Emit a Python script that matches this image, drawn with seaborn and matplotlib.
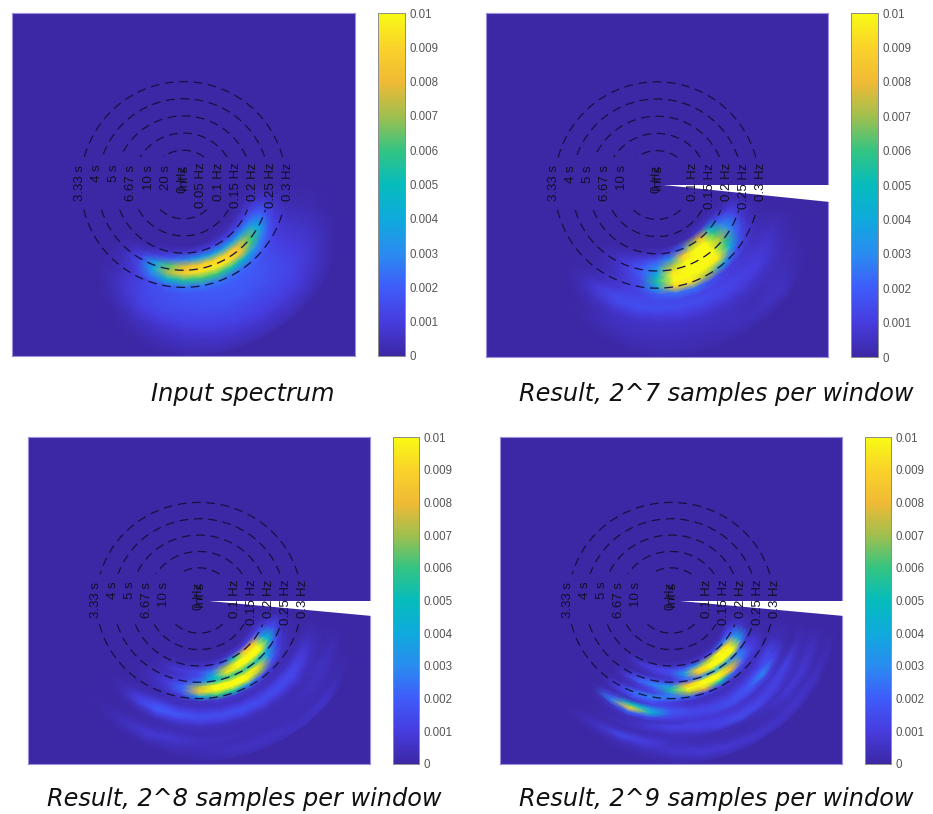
import numpy as np
import matplotlib
matplotlib.use("Agg")
import matplotlib.pyplot as plt
import seaborn as sns
from matplotlib.colors import LinearSegmentedColormap
from matplotlib.patches import Polygon
from matplotlib.projections.polar import PolarTransform
from matplotlib.transforms import Affine2D

THETA_1 = [220, 230, 240, 250, 260, 270, 280, 290, 300, 310, 320, 330, 340, 350, 360]
RADII_1 = [.16, .18, .20, .22, .24, .26, .28, .30, .32, .34, .36, .38, .40, .42, .44, .46, .48, .50]
INPUT_SPEC = [
    [0, 0, 0, 0, 0, 0, 0, 0, 0, 0, 0, 0, 0, 0, 0],
    [0, 0, 0, 0, 0, 0, 0, 0, 2, 3, 3, 3, 3, 0, 0],
    [0, 0, 0, 3, 5, 7, 9, 11, 12, 12, 12, 12, 8, 2, 0],
    [0, 1, 4, 10, 20, 28, 34, 36, 36, 36, 34, 26, 15, 5, 0],
    [0, 3, 12, 34, 62, 78, 86, 90, 90, 84, 66, 40, 20, 6, 0],
    [0, 4, 14, 40, 72, 88, 94, 96, 94, 84, 60, 36, 16, 5, 0],
    [0, 3, 10, 26, 44, 56, 60, 60, 54, 44, 30, 20, 10, 4, 0],
    [0, 3, 8, 14, 20, 24, 26, 26, 24, 22, 18, 12, 8, 3, 0],
    [0, 2, 8, 14, 17, 18, 19, 20, 20, 19, 15, 10, 6, 2, 0],
    [0, 2, 8, 13, 16, 17, 18, 19, 19, 18, 15, 10, 6, 2, 0],
    [0, 1, 6, 12, 15, 16, 17, 18, 18, 17, 14, 10, 6, 2, 0],
    [0, 0, 4, 10, 13, 14, 15, 16, 16, 15, 14, 10, 6, 2, 0],
    [0, 0, 2, 7, 10, 12, 13, 14, 14, 14, 13, 9, 5, 1, 0],
    [0, 0, 0, 4, 7, 9, 11, 12, 12, 12, 11, 8, 4, 1, 0],
    [0, 0, 0, 2, 5, 7, 8, 9, 10, 10, 9, 6, 3, 0, 0],
    [0, 0, 0, 1, 3, 5, 6, 7, 7, 7, 7, 4, 1, 0, 0],
    [0, 0, 0, 0, 1, 3, 4, 4, 5, 5, 4, 2, 0, 0, 0],
    [0, 0, 0, 0, 0, 1, 2, 2, 2, 2, 1, 0, 0, 0, 0],
]
RESULT_2E7 = [
    [0, 0, 0, 0, 0, 0, 0, 0, 0, 0, 0, 0, 0, 0, 0],
    [0, 0, 0, 0, 0, 0, 0, 1, 3, 6, 6, 3, 0, 0, 0],
    [0, 0, 0, 1, 2, 4, 8, 22, 70, 80, 45, 14, 3, 0, 0],
    [0, 0, 2, 5, 10, 18, 32, 85, 115, 120, 60, 26, 10, 2, 0],
    [0, 1, 4, 10, 18, 30, 70, 115, 130, 130, 70, 30, 12, 3, 0],
    [0, 1, 4, 10, 20, 40, 95, 125, 130, 125, 60, 24, 8, 1, 0],
    [0, 1, 3, 8, 16, 55, 115, 130, 125, 95, 40, 14, 5, 1, 0],
    [0, 1, 4, 8, 14, 36, 90, 95, 70, 36, 16, 8, 3, 0, 0],
    [0, 1, 5, 9, 12, 18, 24, 24, 16, 10, 8, 5, 2, 0, 0],
    [0, 2, 9, 14, 14, 14, 14, 13, 12, 10, 8, 6, 3, 0, 0],
    [0, 2, 8, 14, 16, 16, 15, 15, 14, 12, 10, 8, 4, 0, 0],
    [0, 1, 4, 8, 10, 10, 11, 11, 11, 10, 10, 7, 3, 0, 0],
    [0, 0, 2, 5, 6, 6, 7, 7, 7, 7, 6, 5, 2, 0, 0],
    [0, 0, 1, 4, 5, 5, 5, 5, 5, 4, 4, 3, 1, 0, 0],
    [0, 0, 1, 3, 4, 4, 4, 4, 4, 3, 4, 3, 1, 0, 0],
    [0, 0, 0, 1, 3, 3, 3, 3, 4, 4, 5, 2, 0, 0, 0],
    [0, 0, 0, 0, 1, 2, 2, 2, 3, 4, 5, 1, 0, 0, 0],
    [0, 0, 0, 0, 0, 1, 1, 1, 1, 1, 1, 0, 0, 0, 0],
]

THETA_2 = [220, 230, 240, 250, 260, 270, 280, 290, 300, 310, 320, 330, 340, 350]
RADII_3 = [.16, .175, .19, .205, .22, .235, .25, .265, .28, .295, .31, .325,
           .34, .355, .37, .385, .40, .415, .43, .445, .46, .475, .49]
RESULT_2E8 = [
    [0, 0, 0, 0, 0, 0, 0, 0, 0, 0, 0, 0, 0, 0],
    [0, 0, 0, 0, 0, 0, 0, 0, 0, 0, 2, 2, 1, 0],
    [0, 0, 0, 1, 1, 2, 2, 4, 8, 10, 12, 10, 4, 0],
    [0, 0, 1, 3, 5, 6, 8, 18, 55, 85, 80, 25, 8, 0],
    [0, 0, 3, 8, 10, 14, 26, 70, 105, 115, 110, 42, 12, 1],
    [0, 0, 2, 5, 8, 16, 42, 95, 125, 130, 115, 46, 15, 2],
    [0, 1, 3, 6, 12, 26, 48, 58, 58, 52, 45, 22, 6, 1],
    [0, 1, 4, 10, 22, 72, 105, 125, 120, 95, 34, 10, 3, 0],
    [0, 1, 3, 8, 22, 85, 110, 125, 110, 70, 18, 6, 2, 0],
    [0, 0, 2, 4, 10, 38, 60, 55, 30, 14, 6, 3, 1, 0],
    [0, 0, 1, 3, 4, 5, 8, 8, 6, 4, 3, 2, 1, 0],
    [0, 1, 4, 7, 5, 5, 5, 4, 5, 5, 5, 5, 3, 0],
    [0, 2, 10, 16, 12, 10, 9, 10, 10, 11, 12, 10, 4, 0],
    [0, 2, 12, 20, 18, 16, 16, 16, 15, 15, 14, 9, 3, 0],
    [0, 1, 4, 10, 11, 12, 12, 12, 11, 10, 9, 5, 2, 0],
    [0, 0, 1, 3, 4, 5, 5, 5, 4, 4, 4, 3, 1, 0],
    [0, 0, 1, 2, 3, 3, 3, 3, 3, 3, 3, 4, 2, 0],
    [0, 1, 3, 4, 5, 3, 3, 3, 3, 3, 4, 5, 3, 0],
    [0, 1, 5, 8, 8, 5, 4, 3, 3, 3, 4, 4, 1, 0],
    [0, 1, 3, 6, 5, 4, 3, 3, 3, 3, 3, 2, 0, 0],
    [0, 0, 1, 2, 3, 3, 4, 5, 5, 3, 3, 2, 0, 0],
    [0, 0, 0, 0, 1, 2, 4, 5, 5, 5, 7, 2, 0, 0],
    [0, 0, 0, 0, 0, 1, 2, 3, 3, 4, 4, 0, 0, 0],
]

RADII_4 = [.175, .1875, .20, .2125, .225, .2375, .25, .2625, .275, .2875, .30, .3125, .325, .3375,
           .35, .3625, .375, .3875, .40, .4125, .425, .4375, .45, .4625, .475, .4875, .50]
RESULT_2E9 = [
    [0, 0, 0, 0, 0, 0, 0, 0, 0, 0, 0, 2, 1, 0],
    [0, 0, 0, 0, 0, 0, 1, 1, 2, 3, 6, 10, 3, 0],
    [0, 0, 2, 3, 3, 4, 5, 6, 10, 16, 30, 20, 5, 0],
    [0, 0, 5, 10, 12, 14, 18, 32, 70, 100, 90, 30, 6, 0],
    [0, 0, 2, 5, 10, 16, 35, 90, 120, 125, 120, 35, 5, 0],
    [0, 0, 0, 2, 4, 8, 28, 85, 120, 130, 125, 28, 3, 0],
    [0, 0, 4, 14, 16, 10, 18, 26, 38, 34, 26, 8, 2, 0],
    [0, 0, 8, 22, 30, 35, 80, 110, 110, 75, 28, 10, 2, 0],
    [0, 0, 3, 8, 18, 55, 110, 125, 120, 80, 22, 10, 2, 0],
    [0, 0, 2, 8, 12, 28, 70, 80, 50, 20, 10, 8, 1, 0],
    [0, 1, 10, 25, 30, 25, 22, 14, 10, 6, 5, 4, 1, 0],
    [0, 1, 8, 18, 18, 10, 6, 5, 4, 4, 6, 8, 2, 0],
    [0, 0, 2, 6, 12, 10, 7, 6, 6, 8, 10, 14, 3, 0],
    [0, 1, 14, 50, 34, 18, 12, 10, 10, 14, 20, 12, 3, 0],
    [0, 1, 28, 90, 45, 16, 14, 14, 14, 18, 30, 12, 2, 0],
    [0, 0, 6, 22, 16, 10, 10, 12, 16, 14, 12, 5, 1, 0],
    [0, 0, 2, 4, 5, 6, 8, 8, 8, 6, 6, 5, 1, 0],
    [0, 0, 1, 3, 8, 12, 12, 10, 8, 8, 10, 12, 4, 0],
    [0, 0, 2, 4, 6, 8, 10, 12, 13, 12, 12, 8, 3, 0],
    [0, 0, 1, 2, 3, 4, 6, 10, 15, 12, 8, 4, 2, 0],
    [0, 0, 3, 6, 6, 4, 3, 3, 5, 5, 4, 5, 4, 0],
    [0, 1, 5, 14, 10, 5, 3, 2, 2, 4, 8, 8, 5, 0],
    [0, 1, 3, 6, 8, 6, 4, 3, 2, 3, 6, 6, 3, 0],
    [0, 0, 1, 2, 4, 7, 7, 5, 3, 3, 4, 3, 1, 0],
    [0, 0, 0, 1, 2, 4, 8, 8, 6, 5, 6, 5, 3, 0],
    [0, 0, 0, 0, 1, 2, 4, 6, 7, 6, 6, 4, 2, 0],
    [0, 0, 0, 0, 0, 1, 2, 3, 3, 3, 2, 1, 0, 0],
]

RING_FREQS = [0.1, 0.15, 0.2, 0.25, 0.3]
FREQ_LABELS = ["0.1 Hz", "0.15 Hz", "0.2 Hz", "0.25 Hz", "0.3 Hz"]
PERIOD_LABELS = ["10 s", "6.67 s", "5 s", "4 s", "3.33 s"]
CBAR_TICKS = [0, 0.001, 0.002, 0.003, 0.004, 0.005, 0.006, 0.007, 0.008, 0.009, 0.01]
CBAR_LABELS = ["0", "0.001", "0.002", "0.003", "0.004", "0.005", "0.006", "0.007", "0.008", "0.009", "0.01"]

W, H = 933, 814

parula = LinearSegmentedColormap.from_list("parula_like", [
    "#3c28a5", "#473cdf", "#3f5cfa", "#2a8cf0", "#0faadc", "#05bcbc",
    "#34c482", "#a0bf4e", "#f0ba35", "#fad22a", "#f8fa14"])


def add_axes_px(fig, left, top, right, bottom):
    return fig.add_axes([left / W, 1 - bottom / H, (right - left) / W, (bottom - top) / H])


def draw_panel(fig, box, cbar_box, spec, thetas, radii, caption, cap_xy, wedge=None, inner_labels=False):
    ax = add_axes_px(fig, *box)
    cax = add_axes_px(fig, *cbar_box)
    values = np.array(spec) * 1e-4
    sns.heatmap(values, ax=ax, cbar_ax=cax, cmap=parula, vmin=0, vmax=0.01,
                xticklabels=False, yticklabels=False, shading="gouraud")

    # heatmap rows/cols are radius/angle, put them on the Hz plane
    mesh = ax.collections[0]
    d_theta = np.deg2rad(thetas[1] - thetas[0])
    d_r = (radii[-1] - radii[0]) / (len(radii) - 1)
    grid_to_polar = Affine2D().scale(d_theta, d_r).translate(np.deg2rad(thetas[0]), radii[0])
    mesh.set_transform(grid_to_polar + PolarTransform() + ax.transData)
    ax.set_xlim(-0.5, 0.5)
    ax.set_ylim(-0.5, 0.5)
    ax.set_facecolor(parula(0.0))
    for spine in ax.spines.values():
        spine.set_visible(True)
        spine.set_color("#9a90dc")
        spine.set_linewidth(0.8)

    # dashed rings, broken where the labels sit
    t = np.linspace(0, 2 * np.pi, 721)
    for f in RING_FREQS:
        x, y = f * np.cos(t), f * np.sin(t)
        y = np.where((y > -0.072) & (y < 0.08), np.nan, y)
        ax.plot(x, y, color="#15123f", lw=0.9, ls=(0, (7, 4.5)), zorder=4)

    if wedge is not None:
        ax.add_patch(Polygon([(wedge[0], 0), (0.505, 0), (0.505, wedge[1])], closed=True,
                             facecolor="white", edgecolor="none", zorder=3, clip_on=False))

    text_kw = dict(rotation=90, ha="center", va="top", fontsize=9.5, color="#101028",
                   family="Liberation Sans", zorder=5)
    for f, lab in zip(RING_FREQS, FREQ_LABELS):
        ax.text(f + 0.004, 0.064, lab, **text_kw)
    for f, lab in zip(RING_FREQS, PERIOD_LABELS):
        ax.text(-f - 0.002, 0.058, lab, **text_kw)
    if inner_labels:
        ax.text(0.05, 0.064, "0.05 Hz", **text_kw)
        ax.text(-0.05, 0.058, "20 s", **text_kw)
    ax.text(0.0, 0.055, "0 Hz", **text_kw)
    ax.text(0.005, 0.055, "Inf s", **text_kw)

    cb = mesh.colorbar
    cb.outline.set_linewidth(0.7)
    cb.outline.set_edgecolor("#8c8c8c")
    cb.set_ticks(CBAR_TICKS, labels=CBAR_LABELS)
    cax.tick_params(axis="y", right=True, direction="in", length=2.5, width=0.6, color="#444444",
                    labelcolor="#555555", labelsize=8.3, pad=3)
    for lab in cax.get_yticklabels():
        lab.set_family("Liberation Sans")

    fig.text(cap_xy[0] / W, 1 - cap_xy[1] / H, caption, ha="center", va="center",
             fontsize=17.3, style="italic", family="DejaVu Sans", color="#111111")


sns.set_theme(style="white")
fig = plt.figure(figsize=(W / 100, H / 100), dpi=100, facecolor="white")

draw_panel(fig, (12, 13, 355, 356), (378, 13, 405, 356), INPUT_SPEC, THETA_1, RADII_1,
           "Input spectrum", (243, 394), inner_labels=True)
draw_panel(fig, (486, 13, 828, 357), (851, 13, 878, 357), RESULT_2E7, THETA_1, RADII_1,
           "Result, 2^7 samples per window", (716, 394), wedge=(0.018, -0.05))
draw_panel(fig, (28, 437, 370, 764), (393, 437, 419, 764), RESULT_2E8, THETA_2, RADII_3,
           "Result, 2^8 samples per window", (244.5, 799), wedge=(0.03, -0.048))
draw_panel(fig, (500, 437, 842, 764), (865, 437, 891, 764), RESULT_2E9, THETA_2, RADII_4,
           "Result, 2^9 samples per window", (716, 799), wedge=(0.025, -0.048))

plt.savefig("out.png", dpi=100)
